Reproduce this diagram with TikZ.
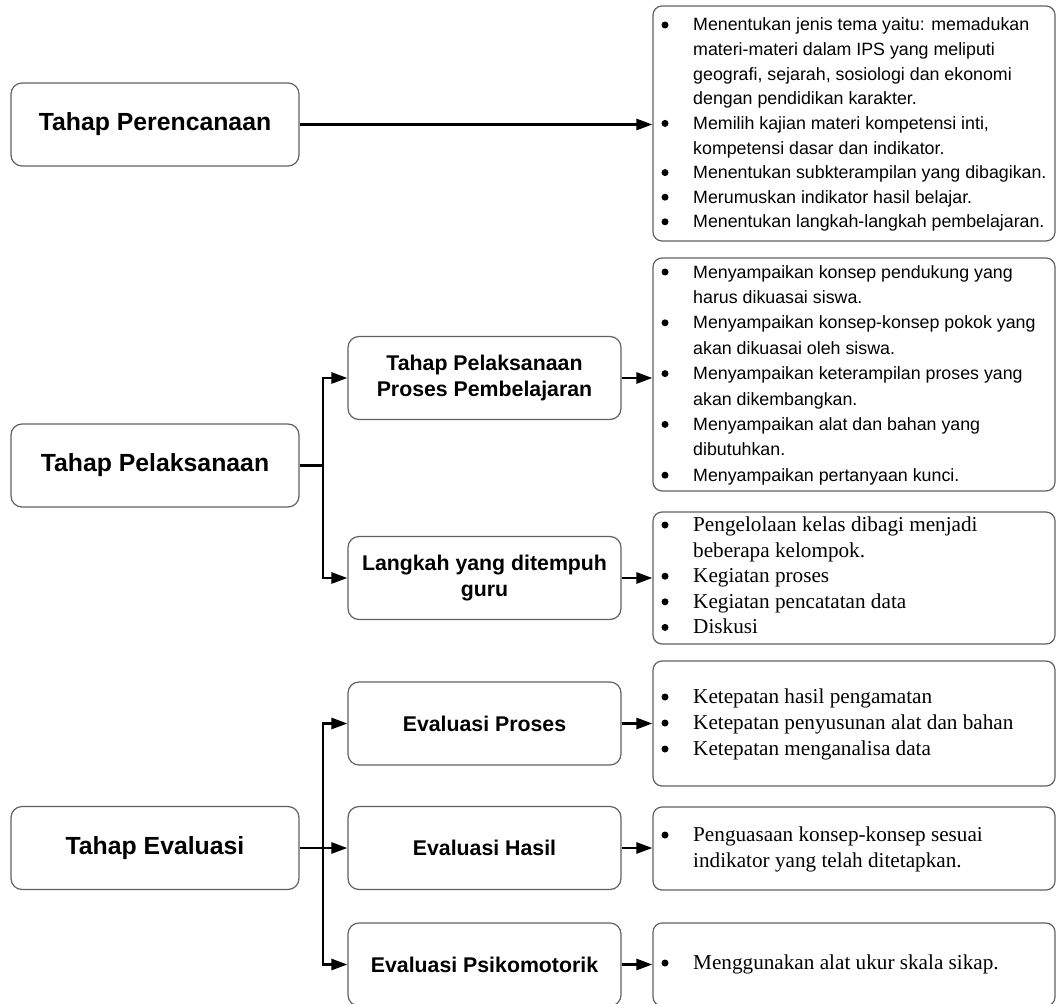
\documentclass[tikz,border=0pt]{standalone}
\usepackage{fontspec}
\setmainfont{Liberation Sans}
\newfontfamily\serifface{Liberation Serif}
\usetikzlibrary{arrows.meta}

\tikzset{
  boxframe/.style={draw=black!62, line width=1.2pt, rounded corners=11pt, fill=white},
  leftbox/.style={boxframe, minimum width=288pt, minimum height=83pt, inner sep=0pt,
    font=\fontsize{24.8pt}{30pt}\selectfont\bfseries},
  midbox/.style={boxframe, minimum width=273pt, minimum height=83pt, inner sep=0pt,
    align=center, font=\fontsize{21.3pt}{26.5pt}\selectfont\bfseries},
  listbox/.style={boxframe, rounded corners=9pt, minimum width=402pt, inner sep=0pt},
  sansline/.style={anchor=base west, inner sep=0pt, font=\fontsize{17.8pt}{20pt}\selectfont},
  serifline/.style={anchor=base west, inner sep=0pt, font=\serifface\fontsize{21.2pt}{24pt}\selectfont},
  dot/.style={fill=black},
  link/.style={line width=2.6pt, black},
  conn/.style={link, -{Triangle[length=16pt,width=11pt]}}
}

\begin{document}
\begin{tikzpicture}[x=1pt,y=-1pt]
\useasboundingbox (0,0) rectangle (1056,1003);
\clip (0,0) rectangle (1056,1003);

% stage boxes
\node[leftbox] (perenc) at (155,124.5) {Tahap Perencanaan};
\node[leftbox] (pelak)  at (155,465.5) {Tahap Pelaksanaan};
\node[leftbox] (eval)   at (155,848)   {Tahap Evaluasi};

% sub-stage boxes
\node[midbox] (proses)   at (484.5,378)   {Tahap Pelaksanaan\\Proses Pembelajaran};
\node[midbox] (langkah)  at (484.5,578)   {Langkah yang ditempuh\\guru};
\node[midbox] (evproses) at (484.5,723.5) {Evaluasi Proses};
\node[midbox] (evhasil)  at (484.5,848)   {Evaluasi Hasil};
\node[midbox] (evpsiko)  at (484.5,964.5) {Evaluasi Psikomotorik};

% detail boxes
\node[listbox, minimum height=235pt] (r1) at (854,123.5) {};
\node[listbox, minimum height=233pt] (r2) at (854,374.5) {};
\node[listbox, minimum height=132pt] (r3) at (854,578)   {};
\node[listbox, minimum height=125pt] (r4) at (854,723.5) {};
\node[listbox, minimum height=83pt]  (r5) at (854,848.5) {};
\node[listbox, minimum height=83pt]  (r6) at (854,964.5) {};

% detail texts (sans)
\foreach \yy/\bul/\txt [count=\i] in {
  25/1/{Menentukan jenis tema yaitu: memadukan},
  49.6/0/{materi-materi dalam IPS yang meliputi},
  74.2/0/{geografi, sejarah, sosiologi dan ekonomi},
  98.8/0/{dengan pendidikan karakter.},
  123.4/1/{Memilih kajian materi kompetensi inti,},
  148/0/{kompetensi dasar dan indikator.},
  172.6/1/{Menentukan subkterampilan yang dibagikan.},
  197.2/1/{Merumuskan indikator hasil belajar.},
  221.8/1/{Menentukan langkah-langkah pembelajaran.}
}{
  \node[sansline] (r1t\i) at (693,\yy+6) {\txt};
  \ifnum\bul=1 \fill[dot] (665,\yy) circle (3.5pt);\fi
}

\foreach \yy/\bul/\txt [count=\i] in {
  272/1/{Menyampaikan konsep pendukung yang},
  297.4/0/{harus dikuasai siswa.},
  322.8/1/{Menyampaikan konsep-konsep pokok yang},
  348.2/0/{akan dikuasai oleh siswa.},
  373.6/1/{Menyampaikan keterampilan proses yang},
  399/0/{akan dikembangkan.},
  424.4/1/{Menyampaikan alat dan bahan yang},
  449.8/0/{dibutuhkan.},
  475.2/1/{Menyampaikan pertanyaan kunci.}
}{
  \node[sansline] (r2t\i) at (693,\yy+6) {\txt};
  \ifnum\bul=1 \fill[dot] (665,\yy) circle (3.5pt);\fi
}

% detail texts (serif)
\foreach \yy/\bul/\txt [count=\i] in {
  525/1/{Pengelolaan kelas dibagi menjadi},
  550.6/0/{beberapa kelompok.},
  576.2/1/{Kegiatan proses},
  601.8/1/{Kegiatan pencatatan data},
  627.4/1/{Diskusi}
}{
  \node[serifline] (r3t\i) at (693,\yy+6.5) {\txt};
  \ifnum\bul=1 \fill[dot] (665,\yy) circle (3.5pt);\fi
}

\foreach \yy/\bul/\txt [count=\i] in {
  697/1/{Ketepatan hasil pengamatan},
  723/1/{Ketepatan penyusunan alat dan bahan},
  749/1/{Ketepatan menganalisa data}
}{
  \node[serifline] (r4t\i) at (693,\yy+6.5) {\txt};
  \ifnum\bul=1 \fill[dot] (665,\yy) circle (3.5pt);\fi
}

\foreach \yy/\bul/\txt [count=\i] in {
  835/1/{Penguasaan konsep-konsep sesuai},
  861/0/{indikator yang telah ditetapkan.}
}{
  \node[serifline] (r5t\i) at (693,\yy+6.5) {\txt};
  \ifnum\bul=1 \fill[dot] (665,\yy) circle (3.5pt);\fi
}

\node[serifline] (r6t1) at (693,969.5) {Menggunakan alat ukur skala sikap.};
\fill[dot] (665,963) circle (3.5pt);

% connectors
\draw[conn] (perenc.east) -- (perenc.east -| r1.west);

\coordinate (jb) at (323,465.5);
\draw[link] (pelak.east) -- (jb);
\draw[conn] (jb) |- (proses.west);
\draw[conn] (jb) |- (langkah.west);
\draw[conn] (proses.east) -- (proses.east -| r2.west);
\draw[conn] (langkah.east) -- (langkah.east -| r3.west);

\coordinate (jc) at (323,848);
\draw[link] (eval.east) -- (jc);
\draw[conn] (jc) |- (evproses.west);
\draw[conn] (jc) -- (evhasil.west);
\draw[conn] (jc) |- (evpsiko.west);
\draw[conn] (evproses.east) -- (evproses.east -| r4.west);
\draw[conn] (evhasil.east) -- (evhasil.east -| r5.west);
\draw[conn] (evpsiko.east) -- (evpsiko.east -| r6.west);
\end{tikzpicture}
\end{document}
